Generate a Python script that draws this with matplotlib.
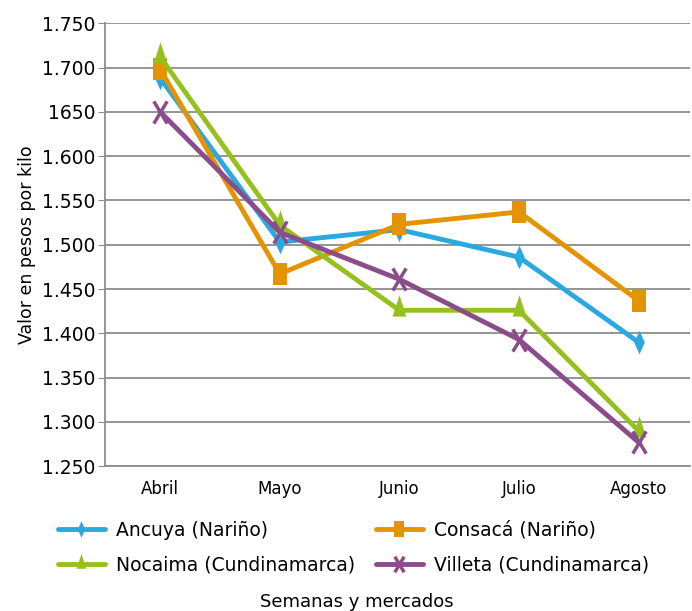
import matplotlib

matplotlib.use("Agg")
import matplotlib.pyplot as plt
from matplotlib.path import Path

plt.rcParams["font.family"] = ["DejaVu Sans"]

# Data
months = ["Abril", "Mayo", "Junio", "Julio", "Agosto"]
ancuya = [1688, 1503, 1517, 1486, 1390]
consaca = [1698, 1467, 1523, 1537, 1437]
nocaima = [1712, 1522, 1426, 1426, 1290]
villeta = [1650, 1514, 1461, 1393, 1277]
y_ticks = [1250, 1300, 1350, 1400, 1450, 1500, 1550, 1600, 1650, 1700, 1750]
y_tick_labels = ["1.250", "1.300", "1.350", "1.400", "1.450", "1.500",
                 "1.550", "1.600", "1650", "1.700", "1.750"]

# the original markers are taller than wide
diamond = [(0, 1), (0.45, 0), (0, -1), (-0.45, 0), (0, 1)]
rect = [(-0.6, -1), (0.6, -1), (0.6, 1), (-0.6, 1), (-0.6, -1)]
tri = [(0, 1), (0.45, -0.4), (-0.45, -0.4), (0, 1)]
cross = Path([(-0.6, -1), (0.6, 1), (-0.6, 1), (0.6, -1)],
             [Path.MOVETO, Path.LINETO, Path.MOVETO, Path.LINETO])

series = [
    ("Ancuya (Nariño)", ancuya, "#29A9E0", diamond, 17),
    ("Consacá (Nariño)", consaca, "#E39400", rect, 16.5),
    ("Nocaima (Cundinamarca)", nocaima, "#95C11F", tri, 22),
    ("Villeta (Cundinamarca)", villeta, "#8B4C8C", cross, 16),
]

fig = plt.figure(figsize=(6.92, 6.11), dpi=100)
ax = fig.add_axes([0.152, 0.237, 0.845, 0.725])

x = list(range(len(months)))
lines = {}
for label, vals, color, marker, ms in series:
    if marker is cross:
        kw = {"markeredgewidth": 2.5, "markerfacecolor": "none"}
    else:
        kw = {"markeredgewidth": 0}
    (ln,) = ax.plot(x, vals, color=color, lw=3.5, marker=marker, ms=ms,
                    label=label, solid_capstyle="round", **kw)
    lines[label] = ln

ax.set_ylim(1250, 1750)
ax.set_xlim(-0.46, 4.43)
ax.set_yticks(y_ticks)
ax.set_yticklabels(y_tick_labels, fontsize=13.5)
ax.set_xticks(x)
ax.set_xticklabels(months, fontsize=12)
ax.yaxis.grid(True, color="#8c8c8c", lw=1.3)
ax.set_axisbelow(True)
for side in ("top", "right"):
    ax.spines[side].set_visible(False)
for side in ("left", "bottom"):
    ax.spines[side].set_color("#8c8c8c")
    ax.spines[side].set_linewidth(1.3)
ax.tick_params(axis="y", length=5, color="#8c8c8c", pad=2)
ax.tick_params(axis="x", length=0, pad=10)
ax.set_ylabel("Valor en pesos por kilo", fontsize=12.5, labelpad=4)

# row-major legend order like the original
order = ["Ancuya (Nariño)", "Nocaima (Cundinamarca)",
         "Consacá (Nariño)", "Villeta (Cundinamarca)"]
fig.legend([lines[k] for k in order], order, loc="upper left",
           bbox_to_anchor=(58 / 692, 0.148), ncol=2, frameon=False,
           fontsize=13.5, handlelength=2.5, markerscale=0.7,
           columnspacing=1.1, handletextpad=0.6, labelspacing=0.85,
           borderpad=0, borderaxespad=0)
fig.text(0.515, 0.0, "Semanas y mercados", ha="center", va="bottom",
         fontsize=13)

fig.savefig("out.png", dpi=100)
